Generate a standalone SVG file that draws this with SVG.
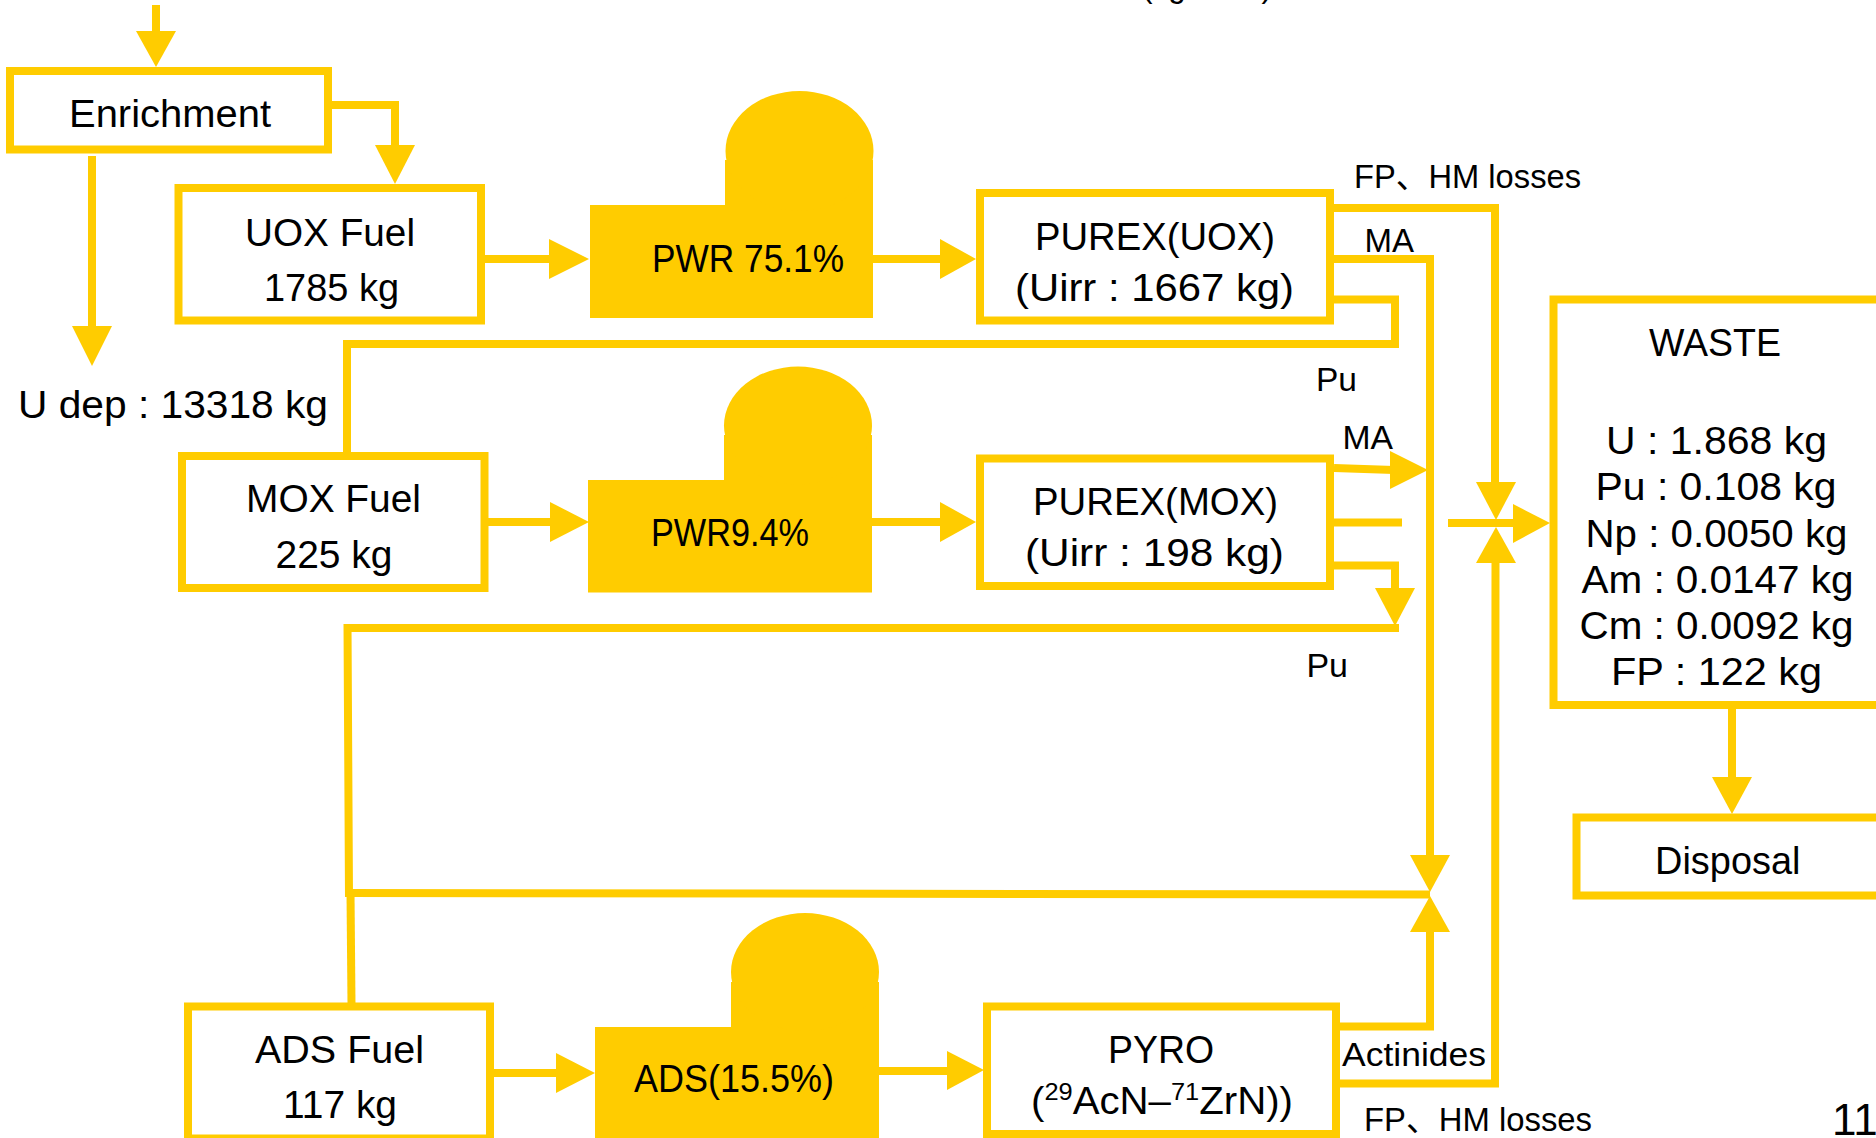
<svg xmlns="http://www.w3.org/2000/svg" width="1876" height="1138" viewBox="0 0 1876 1138">
<style>
text{font-family:"Liberation Sans","Noto Sans CJK JP",sans-serif;font-size:38px;fill:#000}
.s{font-size:33px}
.b{fill:#fff;stroke:#fc0;stroke-width:8}
.r{fill:#fc0}
.c path{fill:none;stroke:#fc0;stroke-width:8}
.c polygon{fill:#fc0}
</style>
<rect width="1876" height="1138" fill="#fff"/>
<text class="s" x="1142" y="-3" textLength="130" lengthAdjust="spacingAndGlyphs">(kg/TWh)</text>
<g id="connectors" class="c">
<path d="M156 5V35"/><polygon points="136,31 176,31 156,67"/>
<path d="M332 105H399M395 105V150"/><polygon points="375,145 415,145 395,184"/>
<path d="M92 156V330"/><polygon points="72,326 112,326 92,366"/>
<path d="M485 259H553"/><polygon points="549,239 549,279 589,259"/>
<path d="M873 259H944"/><polygon points="940,239 940,279 976,259"/>
<path d="M488 522H554"/><polygon points="550,502 550,542 589,522"/>
<path d="M872 522H944"/><polygon points="940,502 940,542 976,522"/>
<path d="M494 1073H560"/><polygon points="556,1053 556,1093 595,1073"/>
<path d="M879 1071H950"/><polygon points="947,1051 947,1090 984,1070"/>
<path d="M1334 208H1495V486"/><polygon points="1476,482 1516,482 1496,520"/>
<path d="M1334 259H1430V860"/><polygon points="1410,855 1450,855 1430,892"/>
<path d="M1334 299.500H1395V344H343M347 340V452"/>
<path d="M1334 468L1394 470"/><polygon points="1390,451 1390,489 1428,470"/>
<path d="M1334 522.500H1402M1448 523H1517"/><polygon points="1513,504 1513,543 1550,523"/>
<path d="M1334 565.500H1395V592"/><polygon points="1375,588 1415,588 1395,626"/>
<path d="M1399 628H344M347.500 624L349 897"/>
<path d="M345 893L1430 894.500"/>
<path d="M350.500 893L351.500 1004"/>
<path d="M1340 1026.500H1430V928"/><polygon points="1410,932 1450,932 1430,896"/>
<path d="M1340 1083.500H1495L1495.500 560"/><polygon points="1476,563 1516,563 1496,527"/>
<path d="M1732 708V781"/><polygon points="1712,777 1752,777 1732,814"/>
</g>
<g id="enrichment"><rect class="b" x="10" y="71" width="318" height="78.500"/><text x="69" y="127" textLength="202" lengthAdjust="spacingAndGlyphs">Enrichment</text></g>
<g id="u-dep"><text x="18" y="418" textLength="310" lengthAdjust="spacingAndGlyphs">U dep : 13318 kg</text></g>
<g id="uox-fuel"><rect class="b" x="178.500" y="188" width="302.500" height="132.500"/><text x="245" y="245.500" textLength="170" lengthAdjust="spacingAndGlyphs">UOX Fuel</text><text x="264" y="300.500" textLength="135" lengthAdjust="spacingAndGlyphs">1785 kg</text></g>
<g id="pwr-1"><path class="r" d="M590 205H725V160H873V318H590Z"/><ellipse class="r" cx="799.500" cy="151" rx="74" ry="60"/><text x="652" y="272" textLength="192" lengthAdjust="spacingAndGlyphs">PWR 75.1%</text></g>
<g id="purex-uox"><rect class="b" x="980" y="193" width="350" height="127.500"/><text x="1035" y="250" textLength="240" lengthAdjust="spacingAndGlyphs">PUREX(UOX)</text><text x="1015" y="300.500" textLength="279" lengthAdjust="spacingAndGlyphs">(Uirr : 1667 kg)</text></g>
<g id="mox-fuel"><rect class="b" x="182" y="456" width="302.500" height="132"/><text x="246" y="511.500" textLength="175" lengthAdjust="spacingAndGlyphs">MOX Fuel</text><text x="275.500" y="567.500" textLength="117" lengthAdjust="spacingAndGlyphs">225 kg</text></g>
<g id="pwr-2"><path class="r" d="M588 480H724V435H872V592.500H588Z"/><ellipse class="r" cx="798" cy="425.500" rx="74" ry="59"/><text x="651" y="546" textLength="158" lengthAdjust="spacingAndGlyphs">PWR9.4%</text></g>
<g id="purex-mox"><rect class="b" x="980" y="458.500" width="350" height="127.500"/><text x="1033" y="515" textLength="245" lengthAdjust="spacingAndGlyphs">PUREX(MOX)</text><text x="1025" y="566" textLength="259" lengthAdjust="spacingAndGlyphs">(Uirr : 198 kg)</text></g>
<g id="ads-fuel"><rect class="b" x="188" y="1006.500" width="302" height="132"/><text x="255" y="1062.500" textLength="169" lengthAdjust="spacingAndGlyphs">ADS Fuel</text><text x="283" y="1117.500" textLength="114" lengthAdjust="spacingAndGlyphs">117 kg</text></g>
<g id="ads"><path class="r" d="M595 1027H731V982H879V1138H595Z"/><ellipse class="r" cx="805" cy="972" rx="74" ry="59"/><text x="634" y="1091.500" textLength="200" lengthAdjust="spacingAndGlyphs">ADS(15.5%)</text></g>
<g id="pyro"><rect class="b" x="987" y="1006.500" width="349" height="127.500"/><text x="1108" y="1062.500" textLength="106" lengthAdjust="spacingAndGlyphs">PYRO</text><text x="1031" y="1114" textLength="262" lengthAdjust="spacingAndGlyphs">(<tspan font-size="24" dy="-14">29</tspan><tspan dy="14">AcN–</tspan><tspan font-size="24" dy="-14">71</tspan><tspan dy="14">ZrN))</tspan></text></g>
<g id="waste"><rect class="b" x="1553.500" y="299.500" width="340" height="405.500"/><text x="1649" y="355.500" textLength="132" lengthAdjust="spacingAndGlyphs">WASTE</text><text x="1606" y="453.500" textLength="221" lengthAdjust="spacingAndGlyphs">U : 1.868 kg</text><text x="1595.500" y="500" textLength="241" lengthAdjust="spacingAndGlyphs">Pu : 0.108 kg</text><text x="1585.500" y="546.500" textLength="262" lengthAdjust="spacingAndGlyphs">Np : 0.0050 kg</text><text x="1581.500" y="592.500" textLength="272" lengthAdjust="spacingAndGlyphs">Am : 0.0147 kg</text><text x="1579.500" y="639" textLength="274" lengthAdjust="spacingAndGlyphs">Cm : 0.0092 kg</text><text x="1611" y="685" textLength="211" lengthAdjust="spacingAndGlyphs">FP : 122 kg</text></g>
<g id="disposal"><rect class="b" x="1576.500" y="817.500" width="320" height="78"/><text x="1655" y="873.500" textLength="145.500" lengthAdjust="spacingAndGlyphs">Disposal</text></g>
<g id="labels">
<text class="s" x="1354" y="188" textLength="227" lengthAdjust="spacingAndGlyphs">FP、HM losses</text>
<text class="s" x="1364.500" y="251.500" textLength="49.500" lengthAdjust="spacingAndGlyphs">MA</text>
<text class="s" x="1316" y="391" textLength="41" lengthAdjust="spacingAndGlyphs">Pu</text>
<text class="s" x="1342.500" y="449" textLength="50.500" lengthAdjust="spacingAndGlyphs">MA</text>
<text class="s" x="1306.500" y="677" textLength="41.500" lengthAdjust="spacingAndGlyphs">Pu</text>
<text class="s" x="1342" y="1065.500" textLength="144" lengthAdjust="spacingAndGlyphs">Actinides</text>
<text class="s" x="1364" y="1130.500" textLength="228" lengthAdjust="spacingAndGlyphs">FP、HM losses</text>
<text x="1832" y="1135" style="font-size:44px">11</text>
</g>
</svg>
